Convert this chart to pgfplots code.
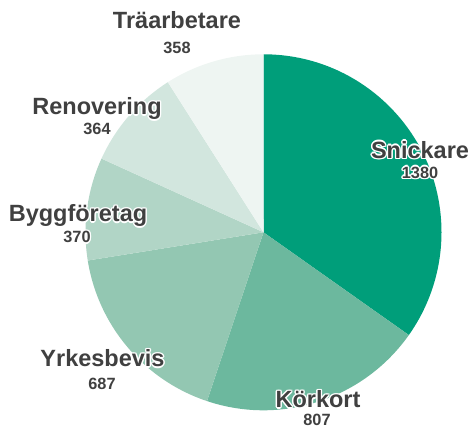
\documentclass[border=0pt]{standalone}
\usepackage{pgfplots}
\pgfplotsset{compat=1.18}
\usepackage{pgfplotstable}
\usepackage{fontspec}
\setmainfont{Liberation Sans}
\definecolor{c1}{RGB}{0,158,122}
\definecolor{c2}{RGB}{108,184,158}
\definecolor{c3}{RGB}{147,199,178}
\definecolor{c4}{RGB}{177,213,198}
\definecolor{c5}{RGB}{210,230,222}
\definecolor{c6}{RGB}{238,245,242}
\definecolor{txt}{RGB}{64,64,64}
% values
\def\vA{1380}\def\vB{807}\def\vC{687}\def\vD{370}\def\vE{364}\def\vF{358}
\newcommand{\outl}[1]{\begingroup\setbox0\hbox{#1}%
 \rlap{\color{white}\kern-1.4pt\copy0}%
 \rlap{\color{white}\kern1.4pt\copy0}%
 \rlap{\color{white}\raise1.4pt\copy0}%
 \rlap{\color{white}\lower1.4pt\copy0}%
 \rlap{\color{white}\kern1pt\raise1pt\copy0}%
 \rlap{\color{white}\kern-1pt\raise1pt\copy0}%
 \rlap{\color{white}\kern1pt\lower1pt\copy0}%
 \rlap{\color{white}\kern-1pt\lower1pt\copy0}%
 \box0\endgroup}
\newcommand{\nm}[1]{\outl{\fontsize{23.5}{25}\selectfont\bfseries #1}}
\newcommand{\vl}[1]{\outl{\fontsize{16.3}{18}\selectfont\bfseries #1}}
\begin{document}
\begin{tikzpicture}
\pgfmathsetmacro\tot{\vA+\vB+\vC+\vD+\vE+\vF}
\pgfmathsetmacro\aA{90}
\pgfmathsetmacro\aB{\aA-360*(\vA/\tot)}
\pgfmathsetmacro\aC{\aB-360*(\vB/\tot)}
\pgfmathsetmacro\aD{\aC-360*(\vC/\tot)}
\pgfmathsetmacro\aE{\aD-360*(\vD/\tot)}
\pgfmathsetmacro\aF{\aE-360*(\vE/\tot)}
\pgfmathsetmacro\aG{\aF-360*(\vF/\tot)}
\begin{axis}[
  scale only axis, width=471pt, height=430pt,
  xmin=0, xmax=471, ymin=0, ymax=430,
  hide axis, clip=false,
]
\def\cx{263.5}\def\cy{197.7}\def\R{178}
\fill[c1] (axis cs:\cx,\cy) -- ++(\aA:\R pt) arc[start angle=\aA, end angle=\aB, radius=\R pt] -- cycle;
\fill[c2] (axis cs:\cx,\cy) -- ++(\aB:\R pt) arc[start angle=\aB, end angle=\aC, radius=\R pt] -- cycle;
\fill[c3] (axis cs:\cx,\cy) -- ++(\aC:\R pt) arc[start angle=\aC, end angle=\aD, radius=\R pt] -- cycle;
\fill[c4] (axis cs:\cx,\cy) -- ++(\aD:\R pt) arc[start angle=\aD, end angle=\aE, radius=\R pt] -- cycle;
\fill[c5] (axis cs:\cx,\cy) -- ++(\aE:\R pt) arc[start angle=\aE, end angle=\aF, radius=\R pt] -- cycle;
\fill[c6] (axis cs:\cx,\cy) -- ++(\aF:\R pt) arc[start angle=\aF, end angle=\aG, radius=\R pt] -- cycle;
\tikzset{lab/.style={anchor=base, inner sep=0pt, text=txt}}
% Snickare
\node[lab] at (axis cs:420,271.7) {\nm{Snickare}};
\node[lab] at (axis cs:420,251.7) {\vl{\vA}};
% Körkort
\node[lab] at (axis cs:318,22.3) {\nm{Körkort}};
\node[lab] at (axis cs:317,4.6) {\vl{\vB}};
% Yrkesbevis
\node[lab] at (axis cs:102.5,63.3) {\nm{Yrkesbevis}};
\node[lab] at (axis cs:102,40) {\vl{\vC}};
% Byggföretag
\node[lab] at (axis cs:78,208.3) {\nm{Byggföretag}};
\node[lab] at (axis cs:77,187) {\vl{\vD}};
% Renovering
\node[lab] at (axis cs:97,315) {\nm{Renovering}};
\node[lab] at (axis cs:97,295) {\vl{\vE}};
% Träarbetare
\node[lab] at (axis cs:177,401.7) {\nm{Träarbetare}};
\node[lab] at (axis cs:177,376.7) {\vl{\vF}};
\path (axis cs:0,0) rectangle (axis cs:471,430);
\end{axis}
\end{tikzpicture}
\end{document}
